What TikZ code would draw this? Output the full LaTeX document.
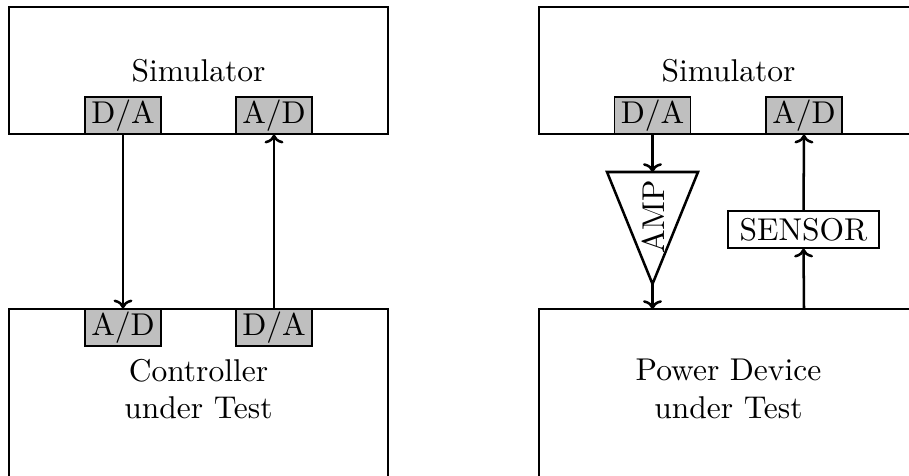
\documentclass[tikz,border=0pt]{standalone}
\usetikzlibrary{arrows.meta}
\tikzset{
  bigbox/.style={draw, line width=0.4pt, minimum width=120.3pt, minimum height=40.3pt, inner sep=0pt},
  convbox/.style={draw, fill=black!25, line width=0.4pt, minimum width=24.1pt, minimum height=11.75pt, inner sep=0pt},
  sensbox/.style={draw, fill=white, line width=0.4pt, minimum width=47.9pt, minimum height=11.75pt, inner sep=0pt},
  lbl/.style={inner sep=0pt, align=center},
  sig/.style={thick, -{To[width=6pt,length=2.8pt]}},
}
\begin{document}
\begin{tikzpicture}[x=0.31746pt, y=-0.31746pt]
\useasboundingbox (0,0) rectangle (909,475);

% ---- hardware-in-the-loop: controller under test ----
\node[bigbox] (simL) at (198.5,70.5) {Simulator};
\draw[line width=0.4pt] (9,309) rectangle (388,495);
\node[lbl] (ctltext) at (198.5,389) {Controller\\under Test};

\node[convbox] (daL) at (123,115.5) {D/A};
\node[convbox] (adL) at (274,115.5) {A/D};
\node[convbox] (adC) at (123,327.5) {A/D};
\node[convbox] (daC) at (274,327.5) {D/A};

\draw[sig] (daL.south) -- (adC.north);
\draw[sig] (daC.north) -- (adL.south);

% ---- power hardware-in-the-loop: power device under test ----
\node[bigbox] (simR) at (728.5,70.5) {Simulator};
\draw[line width=0.4pt] (539,309) rectangle (918,495);
\node[lbl] (pwrtext) at (728.5,389) {Power Device\\under Test};

\node[convbox] (daR) at (652.5,115.5) {D/A};
\node[convbox] (adR) at (804,115.5) {A/D};

% amplifier drawn as a downward triangle
\coordinate (amptop) at (652.5,172);
\coordinate (amptip) at (652.5,284);
\draw[thick, line join=miter] (607,172) -- (698,172) -- (amptip) -- cycle;
\node[rotate=90, inner sep=0pt] (amp) at (653,217) {AMP};

\node[sensbox] (sensor) at (803.5,229.5) {SENSOR};

\coordinate (pwrin) at (652.5,309);
\coordinate (pwrout) at (804,309);

\draw[sig] (daR.south) -- (amptop);
\draw[sig] (amptip) -- (pwrin);
\draw[sig] (pwrout) -- (sensor.south);
\draw[sig] (sensor.north) -- (adR.south);
\end{tikzpicture}
\end{document}
